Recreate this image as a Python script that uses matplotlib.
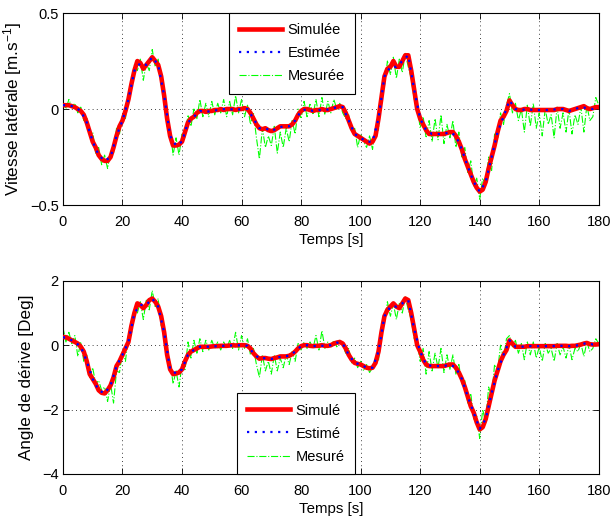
import matplotlib
matplotlib.use("Agg")
import matplotlib.pyplot as plt
import numpy as np

plt.rcParams['font.family'] = ['Liberation Sans', 'DejaVu Sans']
plt.rcParams['mathtext.fontset'] = 'custom'
plt.rcParams['mathtext.rm'] = 'Liberation Sans'
plt.rcParams['mathtext.it'] = 'Liberation Sans:italic'

# ---------------- data ----------------
t_sim = list(range(0, 181))          # 1 s steps
t_est = list(range(0, 181, 2))       # 2 s steps
t_mes = list(range(0, 181))          # 1 s steps

vy_sim = [0.02, 0.02, 0.02, 0.015, 0.01, 0.0, -0.01, -0.03, -0.07, -0.12,
          -0.17, -0.2, -0.24, -0.26, -0.27, -0.27, -0.25, -0.2, -0.14, -0.09,
          -0.06, -0.01, 0.05, 0.13, 0.2, 0.25, 0.24, 0.21, 0.23, 0.25,
          0.27, 0.25, 0.23, 0.17, 0.07, -0.05, -0.14, -0.19, -0.19, -0.185,
          -0.17, -0.12, -0.07, -0.05, -0.04, -0.02, -0.01, -0.01, -0.015, -0.01,
          -0.01, -0.005, -0.005, 0.0, -0.005, 0.0, 0.0, 0.0, -0.005, 0.0,
          0.0, 0.005, 0.0, -0.02, -0.05, -0.08, -0.1, -0.105, -0.1, -0.11,
          -0.115, -0.11, -0.1, -0.09, -0.09, -0.09, -0.09, -0.08, -0.06, -0.03,
          -0.01, 0.0, 0.0, -0.005, -0.01, -0.005, -0.005, 0.0, -0.005, -0.005,
          0.0, 0.005, 0.01, 0.015, 0.01, -0.02, -0.06, -0.1, -0.13, -0.14,
          -0.15, -0.16, -0.17, -0.18, -0.17, -0.14, -0.05, 0.06, 0.17, 0.21,
          0.22, 0.25, 0.22, 0.22, 0.25, 0.28, 0.28, 0.2, 0.1, 0.0,
          -0.05, -0.08, -0.11, -0.13, -0.13, -0.13, -0.13, -0.13, -0.13, -0.125,
          -0.12, -0.12, -0.14, -0.17, -0.21, -0.26, -0.3, -0.34, -0.38, -0.41,
          -0.43, -0.42, -0.38, -0.31, -0.25, -0.19, -0.12, -0.06, -0.04, -0.01,
          0.045, 0.02, 0.0, -0.005, -0.005, 0.0, 0.0, -0.005, -0.005, -0.005,
          -0.005, -0.005, -0.005, -0.005, -0.005, -0.005, 0.0, 0.0, 0.0, -0.005,
          -0.01, -0.005, 0.0, 0.005, 0.01, 0.015, 0.005, 0.0, 0.005, 0.01,
          0.01]

vy_est = [0.02, 0.02, 0.01, -0.01, -0.07, -0.17, -0.24, -0.27, -0.25, -0.14,
          -0.06, 0.05, 0.2, 0.24, 0.23, 0.27, 0.23, 0.07, -0.14, -0.19,
          -0.17, -0.07, -0.04, -0.01, -0.015,
          -0.01, -0.005, 0.0, 0.0, -0.005,
          0.0, 0.0, -0.05, -0.1, -0.1,
          -0.115, -0.1, -0.09, -0.09, -0.06,
          -0.01, 0.0, -0.01, -0.005, -0.005,
          0.0, 0.01, 0.01, -0.06, -0.13,
          -0.15, -0.17, -0.17, -0.05, 0.17,
          0.22, 0.22, 0.25, 0.28, 0.1,
          -0.05, -0.11, -0.13, -0.13, -0.13,
          -0.12, -0.14, -0.21, -0.3, -0.38,
          -0.43, -0.38, -0.25, -0.12, -0.04,
          0.045, 0.0, -0.005, 0.0, -0.005,
          -0.005, -0.005, -0.005, 0.0, 0.0,
          -0.01, 0.0, 0.01, 0.005, 0.0,
          0.01]

vy_mes = [0.04, 0.0, 0.05, 0.01, 0.03, -0.02, 0.01, -0.06, -0.04, -0.14,
          -0.12, -0.23, -0.2, -0.29, -0.24, -0.31, -0.22, -0.23, -0.1, -0.13,
          -0.03, -0.05, 0.08, 0.1, 0.23, 0.2, 0.26, 0.15, 0.24, 0.2,
          0.31, 0.22, 0.26, 0.12, 0.1, -0.09, -0.1, -0.24, -0.15, -0.24,
          -0.13, -0.15, -0.03, -0.09, 0.0, -0.05, 0.05, -0.04, 0.03, -0.04,
          0.04, -0.03, 0.03, -0.02, 0.05, -0.04, 0.04, -0.03, 0.07, -0.02,
          0.05, -0.04, 0.02, -0.08, -0.02, -0.15, -0.26, -0.1, -0.2, -0.14,
          -0.19, -0.09, -0.23, -0.12, -0.2, -0.1, -0.17, -0.06, -0.13, 0.0,
          -0.05, 0.04, -0.04, 0.03, -0.03, 0.05, -0.04, 0.06, -0.03, 0.04,
          -0.02, 0.05, 0.0, 0.03, -0.02, -0.05, -0.03, -0.12, -0.1, -0.2,
          -0.13, -0.17, -0.2, -0.14, -0.21, -0.1, -0.11, 0.1, 0.12, 0.25,
          0.18, 0.27, 0.16, 0.26, 0.19, 0.29, 0.22, 0.16, 0.05, 0.02,
          -0.1, -0.04, -0.15, -0.06, -0.17, -0.05, -0.16, -0.03, -0.18, -0.08,
          -0.15, -0.06, -0.2, -0.12, -0.25, -0.2, -0.33, -0.27, -0.4, -0.36,
          -0.47, -0.36, -0.4, -0.25, -0.32, -0.13, -0.16, -0.02, -0.08, 0.02,
          0.08, -0.02, 0.03, -0.06, 0.0, -0.12, 0.02, -0.09, 0.03, -0.1,
          -0.02, -0.14, 0.0, -0.08, -0.03, -0.15, 0.01, -0.1, -0.02, -0.12,
          0.0, -0.13, -0.03, -0.08, 0.01, -0.12, 0.02, -0.06, -0.04, 0.06,
          0.02]

beta_sim = [0.25, 0.25, 0.2, 0.15, 0.1, 0.05, -0.05, -0.2, -0.5, -0.9,
            -1.05, -1.2, -1.4, -1.48, -1.5, -1.4, -1.25, -1.0, -0.65, -0.5,
            -0.3, -0.1, 0.1, 0.6, 1.0, 1.3, 1.25, 1.15, 1.25, 1.4,
            1.45, 1.35, 1.2, 0.9, 0.4, -0.3, -0.75, -0.9, -0.88, -0.85,
            -0.75, -0.5, -0.3, -0.2, -0.15, -0.1, -0.05, -0.05, -0.05, -0.05,
            -0.04, -0.03, -0.03, -0.02, -0.02, -0.02, -0.01, 0.0, -0.01, 0.0,
            0.0, 0.0, -0.02, -0.1, -0.25, -0.35, -0.42, -0.4, -0.4, -0.42,
            -0.43, -0.4, -0.38, -0.35, -0.35, -0.35, -0.33, -0.28, -0.2, -0.1,
            -0.03, 0.0, 0.0, -0.02, -0.03, -0.02, -0.02, 0.0, -0.02, -0.02,
            0.0, 0.05, 0.08, 0.1, 0.05, -0.1, -0.3, -0.45, -0.55, -0.58,
            -0.6, -0.65, -0.7, -0.72, -0.7, -0.55, -0.2, 0.4, 0.9, 1.1,
            1.2, 1.3, 1.2, 1.15, 1.3, 1.45, 1.4, 1.0, 0.5, 0.0,
            -0.2, -0.45, -0.6, -0.65, -0.65, -0.65, -0.65, -0.65, -0.65, -0.62,
            -0.6, -0.6, -0.7, -0.85, -1.05, -1.3, -1.6, -1.9, -2.1, -2.4,
            -2.62, -2.55, -2.3, -1.9, -1.5, -1.1, -0.8, -0.5, -0.3, -0.15,
            0.15, 0.05, -0.05, -0.05, -0.05, -0.05, -0.03, -0.03, -0.03, -0.03,
            -0.03, -0.03, -0.03, -0.03, -0.03, -0.03, -0.02, -0.02, -0.02, -0.02,
            -0.03, -0.02, -0.02, 0.0, 0.02, 0.05, 0.07, 0.03, 0.02, 0.02,
            0.03]

beta_est = [0.25, 0.2, 0.1, -0.05, -0.5, -1.05, -1.4, -1.5, -1.25, -0.65,
            -0.3, 0.1, 1.0, 1.25, 1.25, 1.45, 1.2, 0.4, -0.75, -0.88,
            -0.75, -0.3, -0.15, -0.05, -0.05,
            -0.04, -0.03, -0.02, -0.01, -0.01,
            0.0, -0.02, -0.25, -0.42, -0.4,
            -0.43, -0.38, -0.35, -0.33, -0.2,
            -0.03, 0.0, -0.03, -0.02, -0.02,
            0.0, 0.08, 0.05, -0.3, -0.55,
            -0.6, -0.7, -0.7, -0.2, 0.9,
            1.2, 1.2, 1.3, 1.4, 0.5,
            -0.2, -0.6, -0.65, -0.65, -0.65,
            -0.6, -0.7, -1.05, -1.6, -2.1,
            -2.6, -2.3, -1.5, -0.8, -0.3,
            0.15, -0.05, -0.05, -0.03, -0.03,
            -0.03, -0.03, -0.03, -0.02, -0.02,
            -0.03, -0.02, 0.02, 0.07, 0.02,
            0.03]

beta_mes = [0.55, 0.1, 0.4, 0.05, 0.3, -0.35, 0.1, -0.5, -0.3, -1.0,
            -0.7, -1.2, -1.1, -1.4, -1.3, -1.75, -1.2, -1.8, -0.8, -0.85,
            -0.2, -0.5, 0.3, 0.3, 1.1, 1.0, 1.35, 0.8, 1.4, 1.1,
            1.7, 1.2, 1.45, 0.6, 0.6, -0.5, -0.5, -1.2, -0.8, -1.3,
            -0.6, -0.8, 0.1, -0.4, 0.15, -0.25, 0.2, -0.2, 0.15, -0.15,
            0.15, -0.1, 0.1, -0.15, 0.1, -0.1, 0.15, -0.1, 0.4, -0.15,
            0.3, -0.1, 0.2, -0.3, -0.1, -0.6, -1.0, -0.3, -0.8, -0.5,
            -0.9, -0.3, -0.8, -0.4, -0.7, -0.3, -0.6, -0.2, -0.5, 0.05,
            -0.15, 0.1, -0.1, 0.1, -0.1, 0.3, -0.15, 0.45, -0.1, 0.1,
            -0.05, 0.15, -0.05, 0.15, 0.0, -0.25, -0.1, -0.55, -0.4, -0.7,
            -0.5, -0.8, -0.6, -0.85, -0.7, -0.4, -0.5, 0.6, 0.7, 1.35,
            0.9, 1.3, 0.8, 1.3, 1.0, 1.5, 1.1, 0.8, 0.2, 0.1,
            -0.5, -0.1, -0.9, -0.2, -0.8, -0.25, -0.7, -0.1, -0.85, -0.3,
            -0.75, -0.3, -0.9, -0.6, -1.2, -1.1, -1.8, -1.5, -2.3, -2.2,
            -2.9, -2.0, -2.4, -1.3, -1.6, -0.6, -0.8, 0.0, -0.4, 0.2,
            0.3, -0.05, 0.15, -0.25, 0.05, -0.45, 0.1, -0.3, 0.1, -0.4,
            -0.05, -0.5, 0.05, -0.25, -0.1, -0.5, 0.05, -0.3, -0.05, -0.4,
            0.0, -0.45, -0.1, -0.2, 0.05, -0.35, 0.1, -0.2, -0.1, 0.2,
            0.05]

x_ticks = [0, 20, 40, 60, 80, 100, 120, 140, 160, 180]
top_yticks = [-0.5, 0, 0.5]
top_yticklabels = ['\u22120.5', '0', '0.5']
bot_yticks = [-4, -2, 0, 2]
bot_yticklabels = ['\u22124', '\u22122', '0', '2']

top_labels = ['Simulée', 'Estimée', 'Mesurée']
bot_labels = ['Simulé', 'Estimé', 'Mesuré']

# ---------------- figure ----------------
fig = plt.figure(figsize=(6.11, 5.23), dpi=100)
ax1 = fig.add_axes([0.103, 0.608, 0.877, 0.367])
ax2 = fig.add_axes([0.103, 0.094, 0.877, 0.369])

FS_TICK = 10.5
FS_XLAB = 10.8
FS_YLAB = 12.3
FS_LEG = 10.5

def style(ax, yticks, ylabels, ylim):
    ax.set_xlim(0, 180)
    ax.set_ylim(*ylim)
    ax.set_xticks(x_ticks)
    ax.set_xticklabels([str(v) for v in x_ticks], fontsize=FS_TICK)
    ax.set_yticks(yticks)
    ax.set_yticklabels(ylabels, fontsize=FS_TICK)
    ax.tick_params(axis='x', direction='in', top=True, length=4, width=0.6, pad=7)
    ax.tick_params(axis='y', direction='in', right=True, length=4, width=0.6, pad=3)
    ax.grid(True, color='black', linestyle=(0, (1, 4)), linewidth=0.6)
    for s in ax.spines.values():
        s.set_linewidth(0.8)
    ax.set_xlabel('Temps [s]', fontsize=FS_XLAB, labelpad=3)

for ax, sim, est, mes, labels in [(ax1, vy_sim, vy_est, vy_mes, top_labels),
                                  (ax2, beta_sim, beta_est, beta_mes, bot_labels)]:
    ax.plot(t_sim, sim, color='red', linewidth=3.3, label=labels[0], zorder=3)
    ax.plot(t_est, est, color='blue', linestyle=(0, (1, 2.5)), linewidth=1.6,
            label=labels[1], zorder=4)
    ax.plot(t_mes, mes, color='#00ff00', linestyle='-.', linewidth=0.8,
            label=labels[2], zorder=2)

style(ax1, top_yticks, top_yticklabels, (-0.5, 0.5))
style(ax2, bot_yticks, bot_yticklabels, (-4, 2))
ax1.set_ylabel('Vitesse latérale [m.s$^{-1}$]', fontsize=FS_YLAB)
ax2.set_ylabel('Angle de dérive [Deg]', fontsize=FS_YLAB)
ax1.yaxis.set_label_coords(-0.073, 0.5)
ax2.yaxis.set_label_coords(-0.054, 0.5)

leg_kw = dict(fontsize=FS_LEG, frameon=True, fancybox=False, shadow=False,
              edgecolor='black', framealpha=1, borderaxespad=0,
              handlelength=2.95, labelspacing=0.62, borderpad=0.7,
              handletextpad=0.35)
l1 = ax1.legend(loc='upper left', bbox_to_anchor=(0.31, 1.0), **leg_kw)
l2 = ax2.legend(loc='lower left', bbox_to_anchor=(0.325, 0.0), **leg_kw)
for l in (l1, l2):
    l.get_frame().set_linewidth(0.8)
    l.set_zorder(10)

fig.savefig('out.png', dpi=100)
